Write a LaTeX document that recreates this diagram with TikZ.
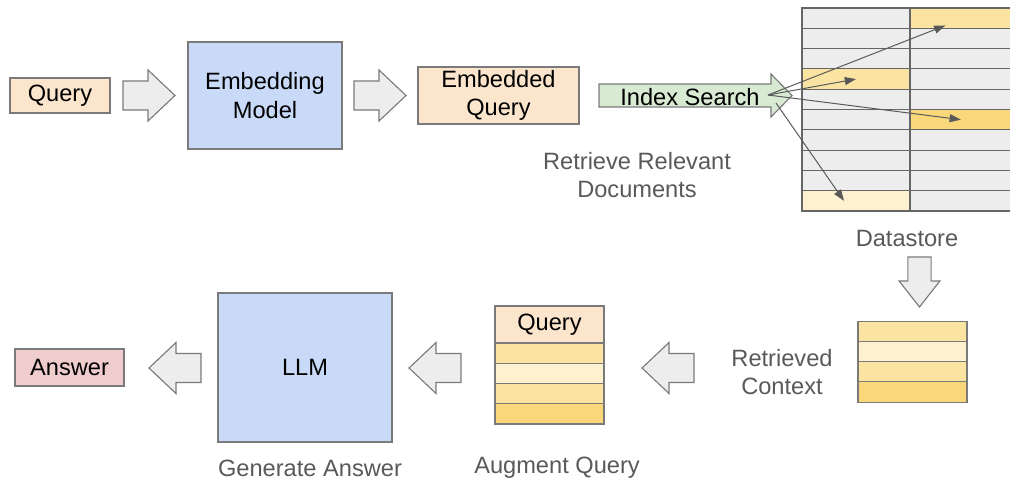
\documentclass[tikz,border=0pt]{standalone}
\usepackage{fontspec}
\setmainfont{Liberation Sans}
\usetikzlibrary{arrows.meta}

\definecolor{linegray}{HTML}{7A7A7A}
\definecolor{gridgray}{HTML}{666666}
\definecolor{cellgray}{HTML}{EDEDED}
\definecolor{textgray}{HTML}{595959}
\definecolor{queryfill}{HTML}{FCE5CD}
\definecolor{modelfill}{HTML}{C9DAF8}
\definecolor{searchfill}{HTML}{D9EAD3}
\definecolor{answerfill}{HTML}{EFCDCD}
\definecolor{yellight}{HTML}{FDF1CF}
\definecolor{yelmid}{HTML}{FBE4A2}
\definecolor{yeldark}{HTML}{F9D77A}

\begin{document}
\begin{tikzpicture}[
    x=0.025cm, y=-0.025cm,
    every node/.style={font=\fontsize{16.8}{20}\selectfont},
    box/.style={draw=linegray, line width=0.8pt, inner sep=0pt, align=center},
    cell/.style={draw=gridgray, line width=0.8pt, inner sep=0pt, minimum height=0.5075cm},
    stack cell/.style={draw=linegray, line width=0.8pt, inner sep=0pt, minimum width=2.725cm, minimum height=0.506cm},
    step label/.style={text=textgray, align=center},
    lookup/.style={-{Triangle[length=0.28cm, width=0.2cm]}, line width=0.7pt, textgray},
    flow arrow/.pic={
        \draw[draw=linegray, fill=cellgray, line width=0.8pt]
            (0,-14.5) -- (25,-14.5) -- (25,-25.5) -- (52,0) -- (25,25.5) -- (25,14.5) -- (0,14.5) -- cycle;
    }
]
\useasboundingbox (0,0) rectangle (1010,482);

% Top row: query -> embedding -> embedded query
\node[box, fill=queryfill, minimum width=2.5cm, minimum height=0.875cm] (query) at (60,95.5) {Query};
\pic at (123,95.5) {flow arrow};
\node[box, fill=modelfill, minimum width=3.85cm, minimum height=2.675cm] (embed) at (265,95.5) {Embedding\\Model};
\pic at (354,95.5) {flow arrow};
\node[box, fill=queryfill, minimum width=4.025cm, minimum height=1.425cm] (embedded) at (498.5,95.5) {Embedded\\Query};

% Index search arrow
\draw[draw=linegray, fill=searchfill, line width=0.8pt]
    (599,84) -- (771,84) -- (771,74) -- (792,95.5) -- (771,117) -- (771,107) -- (599,107) -- cycle;
\node (search) at (690,97) {Index Search};
\node[step label] (retrieve) at (637,175) {Retrieve Relevant\\Documents};

% Datastore grid
\foreach \r/\lf/\rf in {1/cellgray/yelmid, 2/cellgray/cellgray, 3/cellgray/cellgray,
        4/yelmid/cellgray, 5/cellgray/cellgray, 6/cellgray/yeldark, 7/cellgray/cellgray,
        8/cellgray/cellgray, 9/cellgray/cellgray, 10/yellight/cellgray} {
    \node[cell, fill=\lf, minimum width=2.7cm] (l\r) at (856, {8+20.3*(\r-0.5)}) {};
    \node[cell, fill=\rf, minimum width=2.7cm] (r\r) at (964, {8+20.3*(\r-0.5)}) {};
}
\node[step label] (datastore) at (907,238) {Datastore};

% Lookups into the datastore
\coordinate (src) at (768,95);
\coordinate (src2) at (776,103);
\draw[lookup, shorten >=0.5cm] (src) -- (r1.center);
\draw[lookup] (src) -- (l4.center);
\draw[lookup] (src) -- ([xshift=-0.08cm]r6.center);
\draw[lookup] (src2) -- ([xshift=-0.3cm]l10.center);

% Retrieved context
\pic[rotate=-90, yscale=0.8, xscale=0.96] at (919.5,257) {flow arrow};
\foreach \c [count=\i] in {yelmid, yellight, yelmid, yeldark}
    \node[stack cell, fill=\c] (ctx\i) at (912.5, {322+20*(\i-0.5)}) {};
\node[step label] (context) at (782,372) {Retrieved\\Context};
\pic[rotate=180] at (694,368) {flow arrow};

% Augmented query
\node[box, fill=queryfill, minimum width=2.725cm, minimum height=0.925cm] (aug) at (549.5,324.5) {Query};
\foreach \c [count=\i] in {yelmid, yellight, yelmid, yeldark}
    \node[stack cell, fill=\c] (aug\i) at (549.5, {343+20.25*(\i-0.5)}) {};
\node[step label] (augment) at (557,468) {Augment Query};
\pic[rotate=180] at (461,368) {flow arrow};

% LLM and answer
\node[box, fill=modelfill, minimum width=4.35cm, minimum height=3.725cm] (llm) at (305,367.5) {LLM};
\node[step label] (generate) at (310,468) {Generate Answer};
\pic[rotate=180] at (201,368) {flow arrow};
\node[box, fill=answerfill, minimum width=2.725cm, minimum height=0.925cm] (answer) at (69.5,367.5) {Answer};

\end{tikzpicture}
\end{document}
